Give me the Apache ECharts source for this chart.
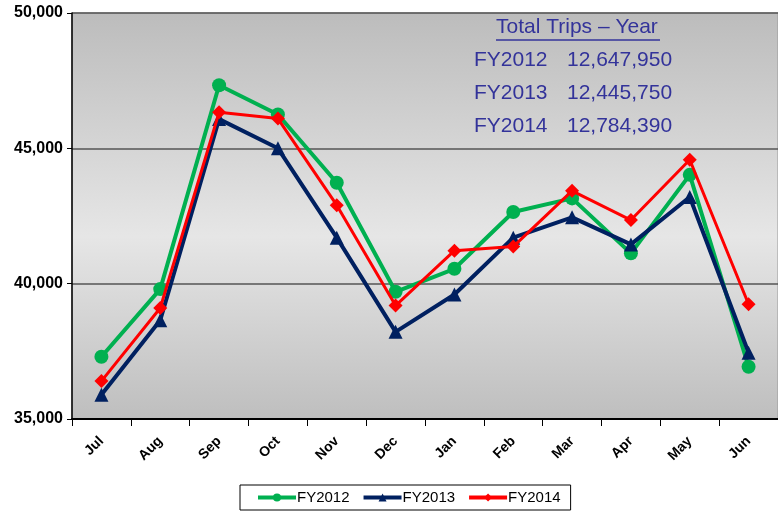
<!DOCTYPE html>
<html>
<head>
    <meta charset="UTF-8">
    <title>Total Trips</title>
    <script src="https://cdn.jsdelivr.net/npm/echarts@6/dist/echarts.min.js" type="text/javascript"></script>
    <style>
        body { margin: 0; background: #fff; }
    </style>
</head>
<body>
<div id="chart" style="width:778px;height:515px"></div>
<script type="text/javascript">
    // months of the fiscal year
    var months = ['Jul', 'Aug', 'Sep', 'Oct', 'Nov', 'Dec', 'Jan', 'Feb', 'Mar', 'Apr', 'May', 'Jun'];
    // monthly trips per fiscal year
    var fy2012 = [37300, 39800, 47330, 46250, 43730, 39700, 40550, 42650, 43150, 41120, 44020, 36930];
    var fy2013 = [35900, 38650, 46080, 45000, 41700, 38220, 39600, 41700, 42450, 41450, 43200, 37450];
    var fy2014 = [36400, 39100, 46330, 46100, 42900, 39190, 41220, 41370, 43430, 42350, 44580, 39240];
    // yearly totals shown top right
    var totalYears = ['FY2012', 'FY2013', 'FY2014'];
    var totalValues = ['12,647,950', '12,445,750', '12,784,390'];

    var textColor = '#33339a';
    var graphics = [{
        type: 'text',
        left: 496, top: 17,
        style: { text: 'Total Trips – Year', font: '21px Liberation Sans, Arial', fill: textColor }
    }, {
        type: 'line',
        shape: { x1: 496, y1: 40, x2: 660, y2: 40 },
        style: { stroke: textColor, lineWidth: 1.5 }
    }];
    for (var i = 0; i < totalYears.length; i++) {
        graphics.push({
            type: 'text', left: 474, top: 50 + i * 33,
            style: { text: totalYears[i], font: '21px Liberation Sans, Arial', fill: textColor }
        });
        graphics.push({
            type: 'text', left: 567, top: 50 + i * 33,
            style: { text: totalValues[i], font: '21px Liberation Sans, Arial', fill: textColor }
        });
    }

    var myChart = echarts.init(document.getElementById('chart'));
    var option = {
        animation: false,
        textStyle: { fontFamily: 'Liberation Sans, Arial' },
        grid: {
            left: 72, right: -3, top: 13, bottom: 96,
            show: true,
            borderColor: '#999',
            borderWidth: 1,
            backgroundColor: new echarts.graphic.LinearGradient(0, 0, 0, 1, [
                { offset: 0, color: '#bcbcbc' },
                { offset: 0.55, color: '#e6e6e6' },
                { offset: 1, color: '#bebebe' }
            ])
        },
        legend: {
            bottom: 5,
            left: 240,
            data: ['FY2012', 'FY2013', 'FY2014'],
            borderColor: '#000',
            borderWidth: 1,
            borderRadius: 0,
            padding: [5, 10, 5, 16],
            itemGap: 12,
            itemWidth: 38,
            itemHeight: 10,
            lineStyle: { width: 4 },
            textStyle: { fontSize: 15, color: '#000', padding: [0, 0, 0, -4] }
        },
        xAxis: {
            type: 'category',
            data: months,
            boundaryGap: true,
            axisLine: { lineStyle: { color: '#000', width: 2 } },
            axisTick: { show: true, length: 7, lineStyle: { color: '#000' } },
            axisLabel: {
                rotate: 45,
                fontSize: 14,
                fontWeight: 'bold',
                color: '#000',
                margin: 20
            }
        },
        yAxis: {
            type: 'value',
            min: 35000,
            max: 50000,
            interval: 5000,
            axisLine: { show: true, lineStyle: { color: '#000', width: 1.5 } },
            axisTick: { show: true, length: 5, lineStyle: { color: '#000' } },
            axisLabel: {
                fontSize: 16,
                fontWeight: 'bold',
                color: '#000',
                margin: 9,
                formatter: function (v) { return echarts.format.addCommas(v); }
            },
            splitLine: { show: true, lineStyle: { color: '#555', width: 1.5 } }
        },
        series: [{
            name: 'FY2012',
            type: 'line',
            data: fy2012,
            symbol: 'circle',
            symbolSize: 14,
            lineStyle: { color: '#00b050', width: 4 },
            itemStyle: { color: '#00b050' },
            z: 2
        }, {
            name: 'FY2013',
            type: 'line',
            data: fy2013,
            symbol: 'triangle',
            symbolSize: 14,
            lineStyle: { color: '#002060', width: 4 },
            itemStyle: { color: '#002060' },
            z: 3
        }, {
            name: 'FY2014',
            type: 'line',
            data: fy2014,
            symbol: 'diamond',
            symbolSize: 14,
            lineStyle: { color: '#ff0000', width: 3 },
            itemStyle: { color: '#ff0000' },
            z: 4
        }],
        graphic: graphics
    };
    myChart.setOption(option);
</script>
</body>
</html>
